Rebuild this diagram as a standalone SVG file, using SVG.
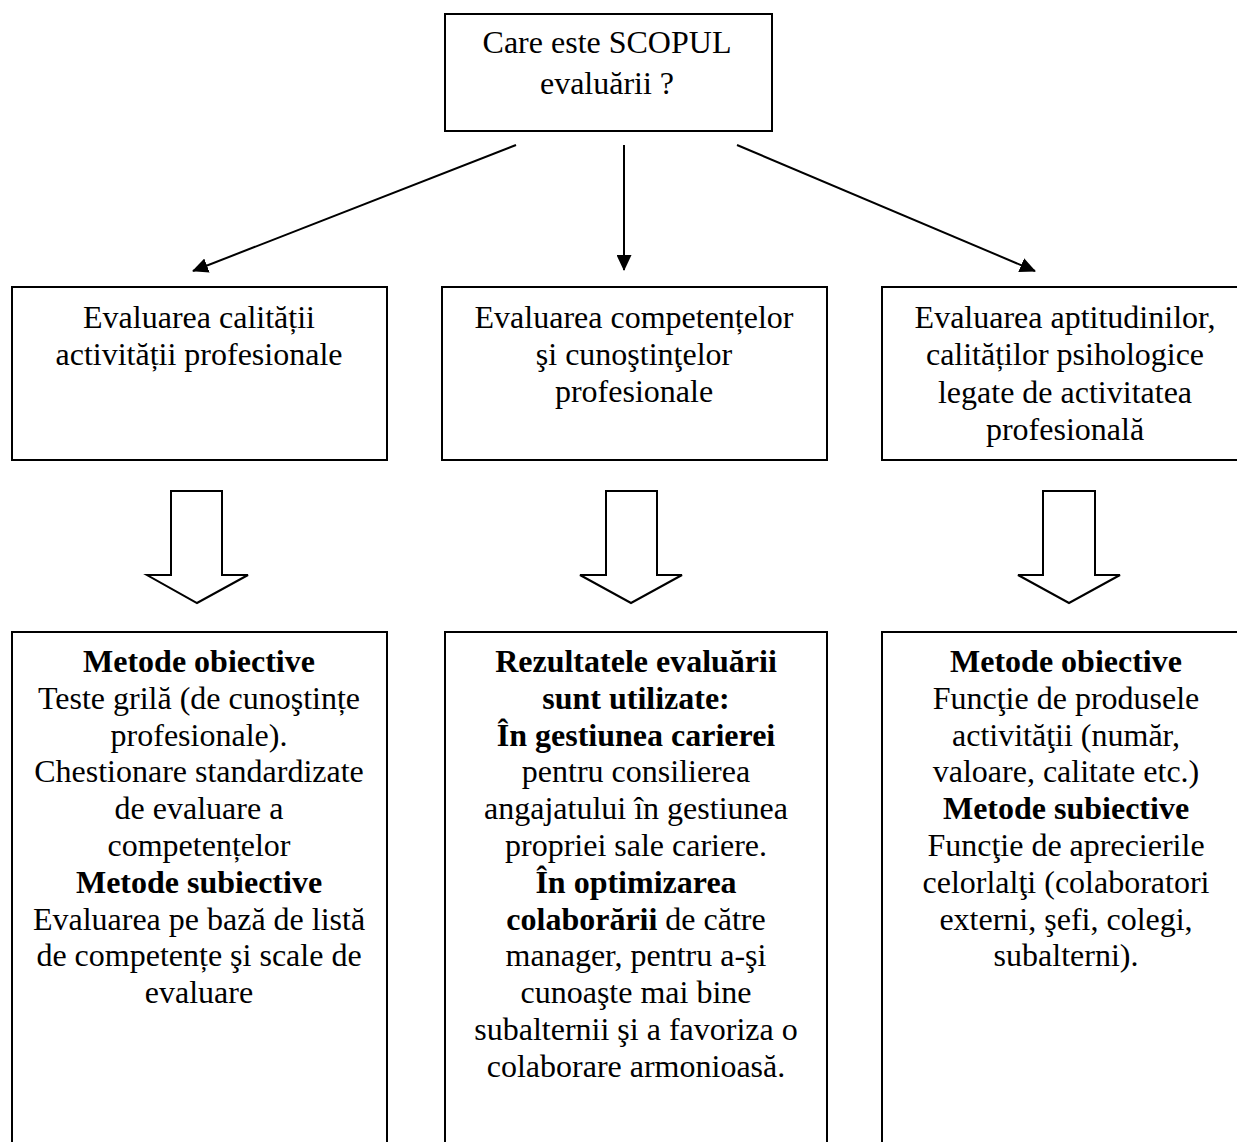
<svg xmlns="http://www.w3.org/2000/svg" width="1237" height="1142" viewBox="0 0 1237 1142">
<style>
.box{fill:#fff;stroke:#000;stroke-width:2}
.blk{fill:#fff;stroke:#000;stroke-width:2;stroke-linejoin:miter}
.t{font-family:"Liberation Serif","Times New Roman",serif;font-size:32px;fill:#000;text-anchor:middle}
.b{font-weight:bold}
.ln{stroke:#000;stroke-width:2;fill:none}
</style>
<defs>
<marker id="ah" viewBox="0 0 16 15" refX="15" refY="7.5" markerWidth="16" markerHeight="15" markerUnits="userSpaceOnUse" orient="auto">
<path d="M0,0 L16,7.5 L0,15 Z" fill="#000"/>
</marker>
</defs>
<rect width="1237" height="1142" fill="#fff"/>
<g id="connectors">
<line class="ln" x1="516" y1="145" x2="193" y2="271" marker-end="url(#ah)"/>
<line class="ln" x1="624" y1="145" x2="624" y2="270" marker-end="url(#ah)"/>
<line class="ln" x1="737" y1="145" x2="1035" y2="271" marker-end="url(#ah)"/>
<path class="blk" d="M171,491 H222 V575 H248 L197,603 L147,575 H171 Z"/>
<path class="blk" d="M606,491 H657 V575 H682 L631,603 L580,575 H606 Z"/>
<path class="blk" d="M1043,491 H1095 V575 H1120 L1069,603 L1018,575 H1043 Z"/>
</g>
<g id="top">
<rect class="box" x="445" y="14" width="327" height="117"/>
<text class="t" x="607" y="53">Care este SCOPUL</text>
<text class="t" x="607" y="94">evaluării ?</text>
</g>
<g id="mid1">
<rect class="box" x="12" y="287" width="375" height="173"/>
<text class="t" x="199" y="328">Evaluarea calității</text>
<text class="t" x="199" y="365">activității profesionale</text>
</g>
<g id="mid2">
<rect class="box" x="442" y="287" width="385" height="173"/>
<text class="t" x="634" y="328">Evaluarea competențelor</text>
<text class="t" x="634" y="365">şi cunoştinţelor</text>
<text class="t" x="634" y="402">profesionale</text>
</g>
<g id="mid3">
<rect class="box" x="882" y="287" width="368" height="173"/>
<text class="t" x="1065" y="328">Evaluarea aptitudinilor,</text>
<text class="t" x="1065" y="365">calităților psihologice</text>
<text class="t" x="1065" y="403">legate de activitatea</text>
<text class="t" x="1065" y="440">profesională</text>
</g>
<g id="bot1">
<rect class="box" x="12" y="632" width="375" height="530"/>
<text class="t b" x="199" y="672">Metode obiective</text>
<text class="t" x="199" y="709">Teste grilă (de cunoştințe</text>
<text class="t" x="199" y="746">profesionale).</text>
<text class="t" x="199" y="782">Chestionare standardizate</text>
<text class="t" x="199" y="819">de evaluare a</text>
<text class="t" x="199" y="856">competențelor</text>
<text class="t b" x="199" y="893">Metode subiective</text>
<text class="t" x="199" y="930">Evaluarea pe bază de listă</text>
<text class="t" x="199" y="966">de competențe şi scale de</text>
<text class="t" x="199" y="1003">evaluare</text>
</g>
<g id="bot2">
<rect class="box" x="445" y="632" width="382" height="530"/>
<text class="t b" x="636" y="672">Rezultatele evaluării</text>
<text class="t b" x="636" y="709">sunt utilizate:</text>
<text class="t b" x="636" y="746">În gestiunea carierei</text>
<text class="t" x="636" y="782">pentru consilierea</text>
<text class="t" x="636" y="819">angajatului în gestiunea</text>
<text class="t" x="636" y="856">propriei sale cariere.</text>
<text class="t b" x="636" y="893">În optimizarea</text>
<text class="t" x="636" y="930"><tspan class="b">colaborării</tspan> de către</text>
<text class="t" x="636" y="966">manager, pentru a-şi</text>
<text class="t" x="636" y="1003">cunoaşte mai bine</text>
<text class="t" x="636" y="1040">subalternii şi a favoriza o</text>
<text class="t" x="636" y="1077">colaborare armonioasă.</text>
</g>
<g id="bot3">
<rect class="box" x="882" y="632" width="368" height="530"/>
<text class="t b" x="1066" y="672">Metode obiective</text>
<text class="t" x="1066" y="709">Funcţie de produsele</text>
<text class="t" x="1066" y="746">activităţii (număr,</text>
<text class="t" x="1066" y="782">valoare, calitate etc.)</text>
<text class="t b" x="1066" y="819">Metode subiective</text>
<text class="t" x="1066" y="856">Funcţie de aprecierile</text>
<text class="t" x="1066" y="893">celorlalţi (colaboratori</text>
<text class="t" x="1066" y="930">externi, şefi, colegi,</text>
<text class="t" x="1066" y="966">subalterni).</text>
</g>
</svg>
